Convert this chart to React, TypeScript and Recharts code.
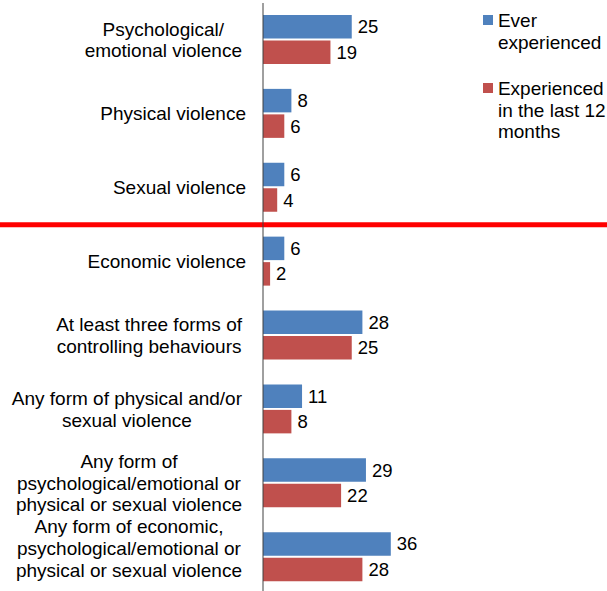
import { BarChart, Bar, XAxis, YAxis, LabelList, Legend, ReferenceLine } from 'recharts'

// categories, each as its printed lines
const categoryLines: string[][] = [
  ['Psychological/', 'emotional violence'],
  ['Physical violence'],
  ['Sexual violence'],
  ['Economic violence'],
  ['At least three forms of', 'controlling behaviours'],
  ['Any form of physical and/or', 'sexual violence'],
  ['Any form of', 'psychological/emotional or', 'physical or sexual violence'],
  ['Any form of economic,', 'psychological/emotional or', 'physical or sexual violence'],
]
const categories = categoryLines.map((l) => l.join(' '))

const everExperienced = [25, 8, 6, 6, 28, 11, 29, 36]
const last12Months = [19, 6, 4, 2, 25, 8, 22, 28]

const seriesNames = ['Ever experienced', 'Experienced in the last 12 months']
const BLUE = '#4F81BD'
const RED = '#C0504D'
const FONT = '"Liberation Sans", Arial, sans-serif'
const FONT_SIZE = 19
const LINE_H = 21.7

const data = categories.map((c, i) => ({
  category: c,
  ever: everExperienced[i],
  last12: last12Months[i],
}))

let ctx: CanvasRenderingContext2D | null = null
function textWidth(s: string) {
  if (!ctx) ctx = document.createElement('canvas').getContext('2d')
  if (!ctx) return s.length * 9
  ctx.font = `${FONT_SIZE}px ${FONT}`
  return ctx.measureText(s).width
}

function CategoryTick(props: any) {
  const { x, y, payload } = props
  const idx = categories.indexOf(payload.value)
  const lines = categoryLines[idx] ?? [String(payload.value)]
  const w = Math.max(...lines.map(textWidth))
  const right = lines.length > 1 ? x - 4 : x
  const cx = right - w / 2
  let startY = y - ((lines.length - 1) / 2) * LINE_H
  // keep the last label inside the picture
  if (startY + (lines.length - 1) * LINE_H > 570) startY = 570 - (lines.length - 1) * LINE_H
  return (
    <text textAnchor="middle" fontSize={FONT_SIZE} fontFamily={FONT} fill="#000">
      {lines.map((l, i) => (
        <tspan key={i} x={cx} y={startY + i * LINE_H} dominantBaseline="central">
          {l}
        </tspan>
      ))}
    </text>
  )
}

function LegendContent() {
  const colors = [BLUE, RED]
  const wrapped = [['Ever', 'experienced'], ['Experienced', 'in the last 12', 'months']]
  return (
    <div style={{ fontFamily: FONT, fontSize: FONT_SIZE, color: '#000' }}>
      {seriesNames.map((n, i) => (
        <div key={n} style={{ display: 'flex', alignItems: 'flex-start', marginBottom: 24.5 }}>
          <div style={{ width: 10, height: 10, background: colors[i], marginTop: 5, marginRight: 5 }} />
          <div style={{ lineHeight: `${LINE_H}px`, width: 110 }} title={n}>
            {wrapped[i].map((l, j) => (
              <div key={j} style={{ whiteSpace: 'nowrap' }}>{l}</div>
            ))}
          </div>
        </div>
      ))}
    </div>
  )
}

export default function App() {
  return (
    <div style={{ position: 'absolute', left: 0, top: 0, width: 607, height: 591, overflow: 'hidden', background: '#fff' }}>
      <BarChart
        width={607}
        height={594}
        data={data}
        layout="vertical"
        margin={{ top: 3, right: 202, bottom: 0, left: 0 }}
        barSize={23.5}
        barGap={2}
      >
        <XAxis type="number" domain={[0, 40]} hide />
        <YAxis
          type="category"
          dataKey="category"
          width={263}
          tickSize={0}
          tickMargin={17}
          tickLine={false}
          axisLine={{ stroke: '#404040', strokeWidth: 1 }}
          tick={<CategoryTick />}
          interval={0}
        />
        <ReferenceLine
          y={categories[2]}
          position="end"
          ifOverflow="visible"
          shape={(p: any) => (
            <line x1={0} x2={607} y1={p.y1} y2={p.y2} stroke="#FF0000" strokeWidth={5} />
          )}
        />
        <Bar dataKey="ever" name={seriesNames[0]} fill={BLUE} isAnimationActive={false}>
          <LabelList dataKey="ever" position="right" offset={6} fill="#000" fontSize={18.5} fontFamily={FONT} />
        </Bar>
        <Bar dataKey="last12" name={seriesNames[1]} fill={RED} isAnimationActive={false}>
          <LabelList dataKey="last12" position="right" offset={6} fill="#000" fontSize={18.5} fontFamily={FONT} />
        </Bar>
        <Legend
          layout="vertical"
          align="center"
          verticalAlign="middle"
          content={<LegendContent />}
          wrapperStyle={{ left: 483, top: 10, width: 124, height: 'auto' }}
        />
      </BarChart>
    </div>
  )
}
